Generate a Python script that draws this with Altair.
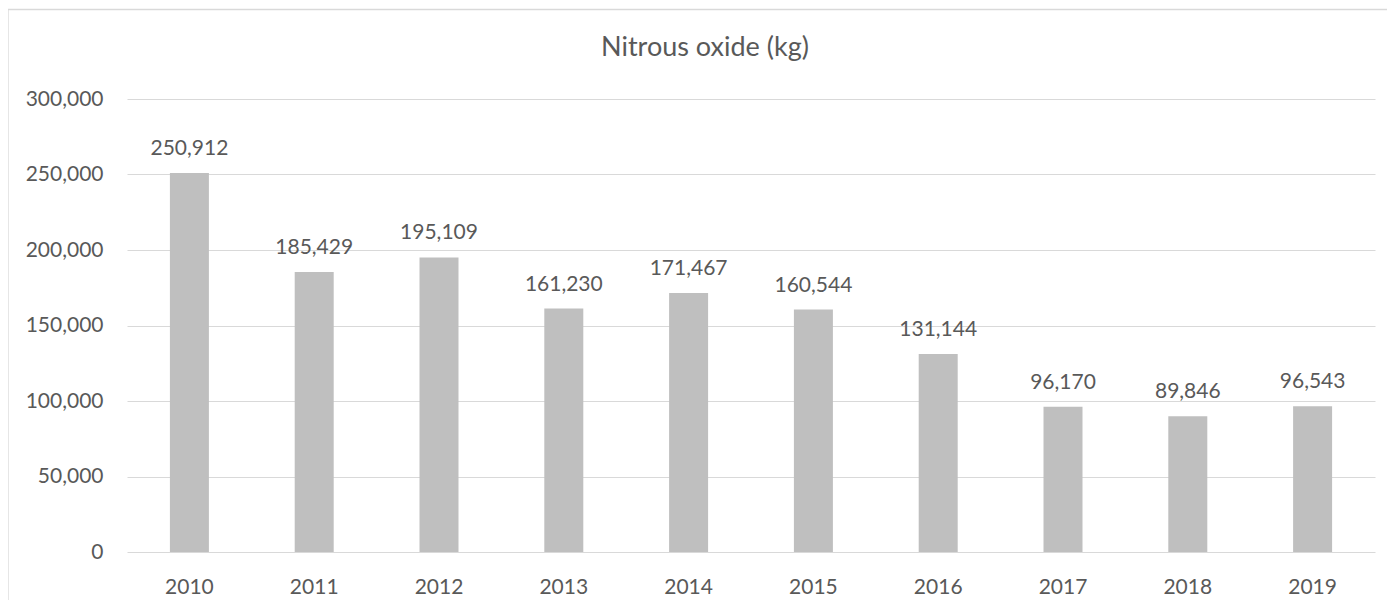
import altair as alt
import pandas as pd

years = ["2010", "2011", "2012", "2013", "2014", "2015", "2016", "2017", "2018", "2019"]
values = [250912, 185429, 195109, 161230, 171467, 160544, 131144, 96170, 89846, 96543]
y_ticks = [0, 50000, 100000, 150000, 200000, 250000, 300000]

df = pd.DataFrame({"year": years, "value": values})

FONT = "Lato"
TXT = "#595959"
GRID = "#D9D9D9"

base = alt.Chart(df).encode(
    x=alt.X("year:N", sort=years, title=None,
            scale=alt.Scale(paddingInner=0, paddingOuter=0),
            axis=alt.Axis(labelAngle=0, ticks=False, domain=False, grid=False,
                          labelFont=FONT, labelFontSize=21, labelColor=TXT,
                          labelPadding=24)),
    y=alt.Y("value:Q", title=None,
            scale=alt.Scale(domain=[0, 300000], nice=False),
            axis=alt.Axis(values=y_ticks, labelExpr="format(datum.value, ',')",
                          ticks=False, domain=False,
                          gridColor=GRID, gridWidth=1,
                          labelFont=FONT, labelFontSize=21, labelColor=TXT,
                          labelPadding=24)),
)

bars = base.mark_bar(size=39, color="#BFBFBF")

labels = base.mark_text(dy=-18, baseline="alphabetic", font=FONT, fontSize=21, color=TXT).encode(
    text=alt.Text("value:Q", format=","),
)

frame_df = pd.DataFrame({"k": [0]})
frame = alt.Chart(frame_df).mark_rect(filled=False, stroke=GRID, strokeWidth=1.3, clip=False).encode(
    x=alt.value(-119), x2=alt.value(1320),
    y=alt.value(-89.5), y2=alt.value(540),
)

chart = alt.layer(frame, bars, labels).properties(
    width=1248, height=453,
    title=alt.TitleParams("Nitrous oxide (kg)", font=FONT, fontSize=27, fontWeight="normal",
                          color=TXT, anchor="middle", dx=-46, offset=-74.5,
                          baseline="alphabetic"),
    autosize=alt.AutoSizeParams(type="none"),
    padding={"left": 119, "top": 91, "right": 12, "bottom": 48},
).configure(background="white").configure_view(stroke=None)

chart.save("out.html", embed_options={"renderer": "svg", "actions": False})
